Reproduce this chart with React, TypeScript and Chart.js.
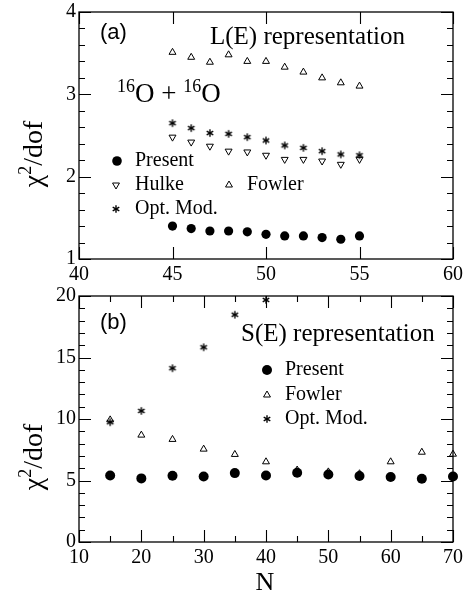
import React, { useEffect, useRef } from "react";
import { Chart, registerables } from "chart.js";

Chart.register(...registerables);

// ---------- Panel (a): L(E) representation ----------
const topN = [45, 46, 47, 48, 49, 50, 51, 52, 53, 54, 55];
const topPresent = [1.4, 1.37, 1.34, 1.34, 1.33, 1.3, 1.28, 1.28, 1.26, 1.24, 1.28];
const topHulke = [2.48, 2.42, 2.37, 2.31, 2.3, 2.26, 2.21, 2.21, 2.19, 2.15, 2.21];
const topFowler = [3.51, 3.45, 3.39, 3.48, 3.4, 3.4, 3.33, 3.27, 3.2, 3.14, 3.1];
const topOptMod = [2.65, 2.59, 2.53, 2.52, 2.48, 2.44, 2.38, 2.35, 2.31, 2.27, 2.26];
const topXTicks = [40, 45, 50, 55, 60];
const topYTicks = [1, 2, 3, 4];
const topYMinorStep = 0.2;

// ---------- Panel (b): S(E) representation ----------
const botN = [15, 20, 25, 30, 35, 40, 45, 50, 55, 60, 65, 70];
const botPresent = [5.41, 5.17, 5.39, 5.33, 5.6, 5.41, 5.63, 5.49, 5.36, 5.28, 5.14, 5.33];
const botFowler = [9.93, 8.69, 8.34, 7.55, 7.12, 6.52, 5.85, 5.7, 5.55, 6.52, 7.3, 7.14];
const botOptModN = [15, 20, 25, 30, 35, 40];
const botOptMod = [9.74, 10.66, 14.13, 15.83, 18.48, 19.68];
const botXTicks = [10, 20, 30, 40, 50, 60, 70];
const botXMinorStep = 5;
const botYTicks = [0, 5, 10, 15, 20];
const botYMinorStep = 1;

const SERIF = "'Liberation Serif', 'Times New Roman', serif";
const SANS = "'Liberation Sans', Arial, sans-serif";
const TOP_OFF = 10; // top canvas starts 10px above the page

function minorTicks(major: number[], step: number): number[] {
  const out: number[] = [];
  for (let i = 0; i < major.length - 1; i++) {
    for (let v = major[i] + step; v < major[i + 1] - step / 2; v += step) {
      out.push(+v.toFixed(6));
    }
  }
  return out;
}

function makeAsterisk(size = 10, len = 3.8): HTMLCanvasElement {
  const c = document.createElement("canvas");
  c.width = size;
  c.height = size;
  const g = c.getContext("2d")!;
  g.strokeStyle = "#000";
  g.lineWidth = 1.4;
  const cx = size / 2;
  const cy = size / 2;
  for (const deg of [90, 30, 150]) {
    const r = (deg * Math.PI) / 180;
    g.beginPath();
    g.moveTo(cx - Math.cos(r) * len, cy - Math.sin(r) * len);
    g.lineTo(cx + Math.cos(r) * len, cy + Math.sin(r) * len);
    g.stroke();
  }
  return c;
}

function drawMarker(ctx: CanvasRenderingContext2D, kind: string, x: number, y: number, r: number, star: HTMLCanvasElement) {
  ctx.save();
  ctx.fillStyle = "#000";
  ctx.strokeStyle = "#000";
  ctx.lineWidth = 1;
  if (kind === "circle") {
    ctx.beginPath();
    ctx.arc(x, y, r, 0, Math.PI * 2);
    ctx.fill();
  } else if (kind === "up" || kind === "down") {
    let rad = kind === "down" ? Math.PI : 0;
    ctx.beginPath();
    ctx.moveTo(x + Math.sin(rad) * r, y - Math.cos(rad) * r);
    rad += (2 * Math.PI) / 3;
    ctx.lineTo(x + Math.sin(rad) * r, y - Math.cos(rad) * r);
    rad += (2 * Math.PI) / 3;
    ctx.lineTo(x + Math.sin(rad) * r, y - Math.cos(rad) * r);
    ctx.closePath();
    ctx.stroke();
  } else if (kind === "star") {
    ctx.drawImage(star, x - star.width / 2, y - star.height / 2);
  }
  ctx.restore();
}

function drawFrame(chart: any, xMajor: number[], xMinor: number[], yMajor: number[], yMinor: number[]) {
  const ctx: CanvasRenderingContext2D = chart.ctx;
  const a = chart.chartArea;
  const xs = chart.scales.x;
  const ys = chart.scales.y;
  ctx.save();
  ctx.setTransform(1, 0, 0, 1, 0, 0);
  ctx.globalAlpha = 1;
  ctx.globalCompositeOperation = "source-over";
  ctx.setLineDash([]);
  ctx.strokeStyle = "#000";
  ctx.lineWidth = 1.3;
  ctx.strokeRect(a.left, a.top, a.right - a.left, a.bottom - a.top);
  ctx.lineWidth = 1.1;
  const big = 12;
  const small = 6;
  ctx.beginPath();
  const vtick = (v: number, len: number) => {
    const px = Math.round(xs.getPixelForValue(v)) + 0.5;
    ctx.moveTo(px, a.bottom);
    ctx.lineTo(px, a.bottom - len);
    ctx.moveTo(px, a.top);
    ctx.lineTo(px, a.top + len);
  };
  const htick = (v: number, len: number) => {
    const py = Math.round(ys.getPixelForValue(v)) + 0.5;
    ctx.moveTo(a.left, py);
    ctx.lineTo(a.left + len, py);
    ctx.moveTo(a.right, py);
    ctx.lineTo(a.right - len, py);
  };
  xMajor.forEach((v) => vtick(v, big));
  xMinor.forEach((v) => vtick(v, small));
  yMajor.forEach((v) => htick(v, big));
  yMinor.forEach((v) => htick(v, small));
  ctx.stroke();
  ctx.restore();
}

function drawYTitle(ctx: CanvasRenderingContext2D, cx: number, cy: number) {
  ctx.save();
  ctx.translate(cx, cy);
  ctx.rotate(-Math.PI / 2);
  ctx.fillStyle = "#000";
  ctx.textBaseline = "alphabetic";
  const main = `28px ${SERIF}`;
  const sup = `18px ${SERIF}`;
  ctx.font = main;
  const w1 = ctx.measureText("χ").width;
  const w3 = ctx.measureText("/dof").width;
  ctx.font = sup;
  const w2 = ctx.measureText("2").width;
  const total = w1 + w2 + w3;
  let x = -total / 2;
  const base = 8;
  ctx.font = main;
  ctx.fillText("χ", x, base);
  x += w1;
  ctx.font = sup;
  ctx.fillText("2", x, base - 11);
  x += w2;
  ctx.font = main;
  ctx.fillText("/dof", x, base);
  ctx.restore();
}

function scaleOpts(min: number, max: number, ticks: number[], axis: "x" | "y", fitSize: number, padding: number) {
  return {
    type: "linear" as const,
    min,
    max,
    afterBuildTicks: (s: any) => {
      s.ticks = ticks.map((v) => ({ value: v }));
    },
    afterFit: (s: any) => {
      if (axis === "x") s.height = fitSize;
      else s.width = fitSize;
    },
    grid: { display: false, drawTicks: false },
    border: { display: false },
    ticks: {
      color: "#000",
      font: { family: SERIF, size: 20 },
      padding,
      autoSkip: false,
      maxRotation: 0,
      callback: (v: any) => String(v),
    },
  };
}

export default function App() {
  const topRef = useRef<HTMLCanvasElement>(null);
  const botRef = useRef<HTMLCanvasElement>(null);

  useEffect(() => {
    const star = makeAsterisk();
    const pts = (xs: number[], ys: number[]) => xs.map((x, i) => ({ x, y: ys[i] }));
    const topYMinor = minorTicks(topYTicks, topYMinorStep);
    const botXMinor = minorTicks(botXTicks, botXMinorStep);
    const botYMinor = minorTicks(botYTicks, botYMinorStep);
    const o = TOP_OFF;

    const topDecor = {
      id: "topDecor",
      afterDraw(chart: any) {
        const ctx: CanvasRenderingContext2D = chart.ctx;
        ctx.save();
        ctx.fillStyle = "#000";
        ctx.textBaseline = "middle";
        ctx.font = `22px ${SANS}`;
        ctx.fillText("(a)", 100, 33 + o);
        ctx.font = `25px ${SERIF}`;
        ctx.fillText("L(E) representation", 210, 37 + o);
        // 16O + 16O
        ctx.textBaseline = "alphabetic";
        let x = 117;
        const base = 102 + o;
        const supF = `18px ${SERIF}`;
        const mainF = `27px ${SERIF}`;
        const parts: [string, boolean][] = [["16", true], ["O + ", false], ["16", true], ["O", false]];
        for (const [t, s] of parts) {
          ctx.font = s ? supF : mainF;
          ctx.fillText(t, x, s ? base - 10 : base);
          x += ctx.measureText(t).width;
        }
        // legend
        ctx.textBaseline = "middle";
        ctx.font = `20px ${SERIF}`;
        drawMarker(ctx, "circle", 117, 161 + o, 4.8, star);
        ctx.fillText("Present", 135, 161 + o);
        drawMarker(ctx, "down", 116, 185 + o, 4, star);
        ctx.fillText("Hulke", 135, 185 + o);
        drawMarker(ctx, "up", 229, 185 + o, 4, star);
        ctx.fillText("Fowler", 247, 185 + o);
        drawMarker(ctx, "star", 116, 209 + o, 4, star);
        ctx.fillText("Opt. Mod.", 135, 209 + o);
        ctx.restore();
        drawYTitle(ctx, 34, 154 + o);
        drawFrame(chart, topXTicks, [], topYTicks, topYMinor);
      },
    };

    const botDecor = {
      id: "botDecor",
      afterDraw(chart: any) {
        const ctx: CanvasRenderingContext2D = chart.ctx;
        ctx.save();
        ctx.fillStyle = "#000";
        ctx.textBaseline = "middle";
        ctx.font = `22px ${SANS}`;
        ctx.fillText("(b)", 100, 53);
        ctx.font = `25px ${SERIF}`;
        ctx.fillText("S(E) representation", 241, 64);
        ctx.font = `20px ${SERIF}`;
        drawMarker(ctx, "circle", 267, 100, 5, star);
        ctx.fillText("Present", 285, 100);
        drawMarker(ctx, "up", 267, 125, 4, star);
        ctx.fillText("Fowler", 285, 125);
        drawMarker(ctx, "star", 267, 149, 4, star);
        ctx.fillText("Opt. Mod.", 285, 149);
        ctx.font = `26px ${SERIF}`;
        ctx.textAlign = "center";
        ctx.fillText("N", 265, 313);
        ctx.restore();
        drawYTitle(ctx, 34, 187);
        drawFrame(chart, botXTicks, botXMinor, botYTicks, botYMinor);
      },
    };

    const common = {
      responsive: false,
      animation: false as const,
      plugins: { legend: { display: false }, tooltip: { enabled: false } },
    };

    const c1 = new Chart(topRef.current!, {
      type: "scatter",
      data: {
        datasets: [
          { label: "Present", data: pts(topN, topPresent), pointStyle: "circle", pointRadius: 4.6, backgroundColor: "#000", borderColor: "#000", borderWidth: 0, clip: false },
          { label: "Hulke", data: pts(topN, topHulke), pointStyle: "triangle", pointRotation: 180, pointRadius: 4, backgroundColor: "rgba(0,0,0,0)", borderColor: "#000", borderWidth: 1, clip: false },
          { label: "Fowler", data: pts(topN, topFowler), pointStyle: "triangle", pointRadius: 4, backgroundColor: "rgba(0,0,0,0)", borderColor: "#000", borderWidth: 1, clip: false },
          { label: "Opt. Mod.", data: pts(topN, topOptMod), pointStyle: star, pointRadius: 4, borderColor: "#000", clip: false },
        ],
      },
      options: {
        ...common,
        layout: { padding: { left: 0, top: 12 + TOP_OFF, right: 16, bottom: 0 } },
        scales: {
          x: scaleOpts(40, 60, topXTicks, "x", 31, 4),
          y: scaleOpts(1, 4, topYTicks, "y", 79, 3),
        },
      } as any,
      plugins: [topDecor],
    });

    const c2 = new Chart(botRef.current!, {
      type: "scatter",
      data: {
        datasets: [
          { label: "Present", data: pts(botN, botPresent), pointStyle: "circle", pointRadius: 5, backgroundColor: "#000", borderColor: "#000", borderWidth: 0, clip: false },
          { label: "Fowler", data: pts(botN, botFowler), pointStyle: "triangle", pointRadius: 4, backgroundColor: "rgba(0,0,0,0)", borderColor: "#000", borderWidth: 1, clip: false },
          { label: "Opt. Mod.", data: pts(botOptModN, botOptMod), pointStyle: star, pointRadius: 4, borderColor: "#000", clip: false },
        ],
      },
      options: {
        ...common,
        layout: { padding: { left: 0, top: 26, right: 16, bottom: 0 } },
        scales: {
          x: scaleOpts(10, 70, botXTicks, "x", 59, 4),
          y: scaleOpts(0, 20, botYTicks, "y", 79, 3),
        },
      } as any,
      plugins: [botDecor],
    });

    return () => {
      c1.destroy();
      c2.destroy();
    };
  }, []);

  return (
    <div style={{ position: "absolute", left: 0, top: 0, width: 469, height: 601, background: "#fff", overflow: "hidden" }}>
      <canvas ref={topRef} width={469} height={300} style={{ position: "absolute", left: 0, top: -TOP_OFF, width: 469, height: 300 }} />
      <canvas ref={botRef} width={469} height={331} style={{ position: "absolute", left: 0, top: 270, width: 469, height: 331 }} />
    </div>
  );
}
